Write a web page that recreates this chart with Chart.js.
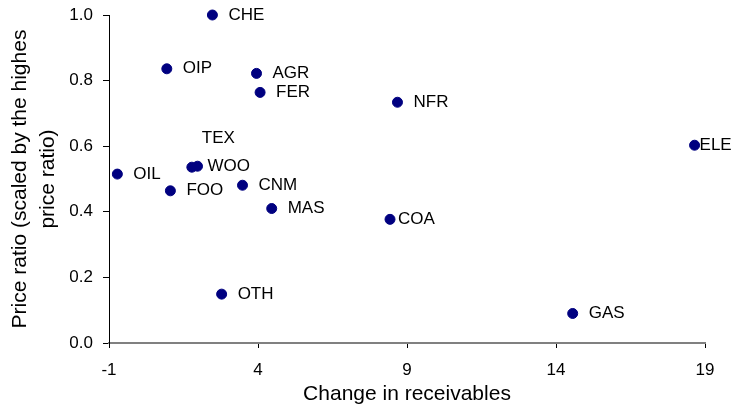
<!DOCTYPE html>
<html>
<head>
<meta charset="utf-8">
<script src="https://cdn.jsdelivr.net/npm/chart.js@4/dist/chart.umd.min.js"></script>
<style>
  html, body { margin: 0; padding: 0; background: #fff; }
  #wrap { width: 733px; height: 410px; }
</style>
</head>
<body>
<div id="wrap"><canvas id="scatter-chart"></canvas></div>
<script>
// sector codes and their values
const sectors = ['CHE', 'OIP', 'AGR', 'FER', 'NFR', 'TEX', 'WOO', 'OIL', 'FOO', 'CNM', 'MAS', 'COA', 'ELE', 'OTH', 'GAS'];
const receivables = [2.47, 0.94, 3.95, 4.07, 8.68, 1.78, 1.97, -0.72, 1.06, 3.48, 4.46, 8.43, 18.65, 2.78, 14.56];
const priceRatio = [1.0, 0.836, 0.822, 0.764, 0.734, 0.536, 0.539, 0.515, 0.464, 0.481, 0.410, 0.377, 0.603, 0.149, 0.090];
const xTicks = [-1, 4, 9, 14, 19];
const yTicks = [0, 0.2, 0.4, 0.6, 0.8, 1.0];

// where each label sits relative to its dot (default: to the right)
const labelShift = {
    TEX: [10, -29],
    WOO: [10, 0],
    COA: [8, 0],
    ELE: [5, 0]
};

const FONT = "'Liberation Sans', Arial, sans-serif";

const pointLabels = {
    id: 'pointLabels',
    afterDatasetsDraw(chart) {
        const ctx = chart.ctx;
        const meta = chart.getDatasetMeta(0);
        ctx.save();
        ctx.font = '17px ' + FONT;
        ctx.fillStyle = '#000';
        ctx.textBaseline = 'middle';
        ctx.textAlign = 'left';
        meta.data.forEach((pt, i) => {
            const name = sectors[i];
            const shift = labelShift[name] || [16, 0];
            ctx.fillText(name, pt.x + shift[0], pt.y + shift[1]);
        });
        ctx.restore();
    }
};

Chart.defaults.color = '#000';
Chart.defaults.font.family = FONT;

new Chart(document.getElementById('scatter-chart'), {
    type: 'scatter',
    data: {
        datasets: [{
            label: 'Sectors',
            data: receivables.map((x, i) => ({ x: x, y: priceRatio[i] })),
            backgroundColor: '#000080',
            borderColor: '#000080',
            pointRadius: 5,
            pointHoverRadius: 5,
            clip: false
        }]
    },
    options: {
        responsive: true,
        maintainAspectRatio: false,
        animation: false,
        layout: {
            padding: { top: 15, right: 28, left: 0, bottom: 0 }
        },
        plugins: {
            legend: { display: false },
            tooltip: { enabled: false }
        },
        scales: {
            x: {
                type: 'linear',
                min: -1,
                max: 19,
                afterBuildTicks: scale => { scale.ticks = xTicks.map(v => ({ value: v })); },
                afterFit: scale => { scale.height = 67; },
                grid: {
                    drawOnChartArea: false,
                    drawTicks: true,
                    tickLength: 5,
                    color: '#000'
                },
                border: { color: '#808080', width: 2 },
                ticks: {
                    font: { size: 17 },
                    padding: 12,
                    maxRotation: 0
                },
                title: {
                    display: true,
                    text: 'Change in receivables',
                    font: { size: 21 },
                    padding: { top: 0, bottom: 3 }
                }
            },
            y: {
                type: 'linear',
                min: 0,
                max: 1,
                afterBuildTicks: scale => { scale.ticks = yTicks.map(v => ({ value: v })); },
                afterFit: scale => {
                    scale.width = 109;
                    scale.paddingTop = 0;
                    scale.paddingBottom = 0;
                },
                grid: {
                    drawOnChartArea: false,
                    drawTicks: true,
                    tickLength: 6,
                    color: '#000'
                },
                border: { color: '#000', width: 1 },
                ticks: {
                    font: { size: 17 },
                    padding: 10,
                    callback: v => v.toFixed(1)
                },
                title: {
                    display: true,
                    text: ['Price ratio (scaled by the highes', 'price ratio)'],
                    font: { size: 21, lineHeight: 1.35 },
                    padding: { top: 6, bottom: 0 }
                }
            }
        }
    },
    plugins: [pointLabels]
});
</script>
</body>
</html>
